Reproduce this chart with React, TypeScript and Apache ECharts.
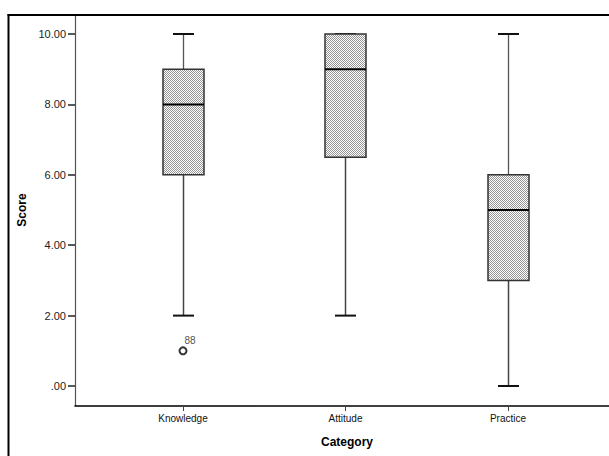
import React, { useEffect, useRef } from "react";
import * as echarts from "echarts";

const categories = ["Knowledge", "Attitude", "Practice"];
const mins = [2, 2, 0];
const q1s = [6, 6.5, 3];
const medians = [8, 9, 5];
const q3s = [9, 10, 6];
const maxs = [10, 10, 10];
const outliers: [number, number, string][] = [[1, 1, "88"]];
const yTicks = [0, 2, 4, 6, 8, 10];

function makePattern() {
  const c = document.createElement("canvas");
  c.width = 2;
  c.height = 2;
  const ctx = c.getContext("2d")!;
  ctx.fillStyle = "#ffffff";
  ctx.fillRect(0, 0, 2, 2);
  ctx.fillStyle = "#959595";
  ctx.fillRect(0, 0, 1, 1);
  ctx.fillRect(1, 1, 1, 1);
  return { image: c.toDataURL(), repeat: "repeat", imageWidth: 2, imageHeight: 2 } as any;
}

export default function App() {
  const ref = useRef<HTMLDivElement>(null);
  useEffect(() => {
    document.body.style.margin = "0";
    document.body.style.overflow = "hidden";
    const chart = echarts.init(ref.current!, null, { renderer: "svg" });
    const pattern = makePattern();
    const boxData = categories.map((_, i) => [i + 1, mins[i], q1s[i], medians[i], q3s[i], maxs[i]]);
    const font = "'Liberation Sans', Arial, sans-serif";
    chart.setOption({
      animation: false,
      backgroundColor: "#ffffff",
      grid: { left: 75, top: 15, width: 537, height: 391, outerBoundsMode: "none", containLabel: false, show: false },
      xAxis: {
        type: "value",
        min: 0.3354,
        max: 3.6400,
        splitLine: { show: false },
        axisLine: { show: true, onZero: false, lineStyle: { color: "#000", width: 1.5 } },
        axisTick: { show: true, customValues: [1, 2, 3], length: 5, lineStyle: { color: "#444" } },
        axisLabel: {
          show: true,
          customValues: [1, 2, 3],
          formatter: (v: number) => categories[Math.round(v) - 1] ?? "",
          fontSize: 10,
          color: "#111",
          fontFamily: font,
          margin: 7,
        },
      },
      yAxis: {
        type: "value",
        min: -0.568,
        max: 10.54,
        splitLine: { show: false },
        axisLine: { show: true, onZero: false, lineStyle: { color: "#555", width: 1.2 } },
        axisTick: { show: true, customValues: yTicks, length: 7, lineStyle: { color: "#222", width: 1.5 } },
        axisLabel: {
          show: true,
          customValues: yTicks,
          formatter: (v: number) => (v === 0 ? ".00" : v.toFixed(2)),
          fontSize: 11,
          color: "#222",
          fontFamily: font,
          margin: 9,
        },
      },
      graphic: [
        {
          type: "line",
          shape: { x1: 8.5, y1: 460, x2: 8.5, y2: 14 },
          style: { stroke: "#000", lineWidth: 2 },
          z: 100,
          silent: true,
        },
        {
          type: "line",
          shape: { x1: 7.5, y1: 15, x2: 615, y2: 15 },
          style: { stroke: "#000", lineWidth: 2 },
          z: 100,
          silent: true,
        },
        {
          type: "text",
          x: 22,
          y: 210,
          rotation: Math.PI / 2,
          style: {
            text: "Score",
            fontSize: 12,
            fontWeight: "bold",
            fontFamily: font,
            fill: "#000",
            align: "center",
            verticalAlign: "middle",
          },
        },
        {
          type: "text",
          x: 347,
          y: 442,
          style: {
            text: "Category",
            fontSize: 12,
            fontWeight: "bold",
            fontFamily: font,
            fill: "#000",
            align: "center",
            verticalAlign: "middle",
          },
        },
      ],
      series: [
        {
          type: "custom",
          data: boxData,
          encode: { x: 0, y: [1, 2, 3, 4, 5] },
          renderItem: (params: any, api: any) => {
            const x = api.value(0);
            const pMin = api.coord([x, api.value(1)]);
            const pQ1 = api.coord([x, api.value(2)]);
            const pMed = api.coord([x, api.value(3)]);
            const pQ3 = api.coord([x, api.value(4)]);
            const pMax = api.coord([x, api.value(5)]);
            const cx = Math.round(pMin[0]) + 0.5;
            const hw = 20.5;
            const cw = 10.5;
            const children: any[] = [];
            if (pMax[1] < pQ3[1] - 0.5) {
              children.push({
                type: "line",
                shape: { x1: cx, y1: pMax[1], x2: cx, y2: pQ3[1] },
                style: { stroke: "#555", lineWidth: 1.3 },
              });
            }
            children.push({
              type: "line",
              shape: { x1: cx, y1: pQ1[1], x2: cx, y2: pMin[1] },
              style: { stroke: "#444", lineWidth: 1.5 },
            });
            children.push({
              type: "line",
              shape: { x1: cx - cw, y1: pMax[1], x2: cx + cw, y2: pMax[1] },
              style: { stroke: "#111", lineWidth: 2 },
            });
            children.push({
              type: "line",
              shape: { x1: cx - cw, y1: pMin[1], x2: cx + cw, y2: pMin[1] },
              style: { stroke: "#111", lineWidth: 2 },
            });
            children.push({
              type: "rect",
              shape: { x: cx - hw, y: pQ3[1], width: hw * 2, height: pQ1[1] - pQ3[1] },
              style: { fill: pattern, stroke: "#333", lineWidth: 1.5 },
            });
            children.push({
              type: "line",
              shape: { x1: cx - hw, y1: pMed[1], x2: cx + hw, y2: pMed[1] },
              style: { stroke: "#000", lineWidth: 2 },
            });
            return { type: "group", children };
          },
          z: 2,
        },
        {
          type: "scatter",
          data: outliers.map((o) => [o[0], o[1], o[2]]),
          symbol: "emptyCircle",
          symbolSize: 7,
          itemStyle: { color: "#000", borderColor: "#000", borderWidth: 1 },
          label: {
            show: true,
            formatter: (p: any) => p.value[2],
            position: [6, -11],
            fontSize: 10,
            color: "#222",
            fontFamily: font,
          },
          z: 3,
        },
      ],
    });
    return () => chart.dispose();
  }, []);
  return (
    <div style={{ position: "absolute", left: 0, top: 0, width: 609, height: 456, overflow: "hidden" }}>
      <div ref={ref} style={{ position: "absolute", left: 0, top: 0, width: 609, height: 456 }} />
      <div
        style={{
          position: "absolute",
          left: 598,
          top: 17,
          width: 11,
          height: 387,
          background: "#ffffff",
          zIndex: 10,
        }}
      />
    </div>
  );
}
